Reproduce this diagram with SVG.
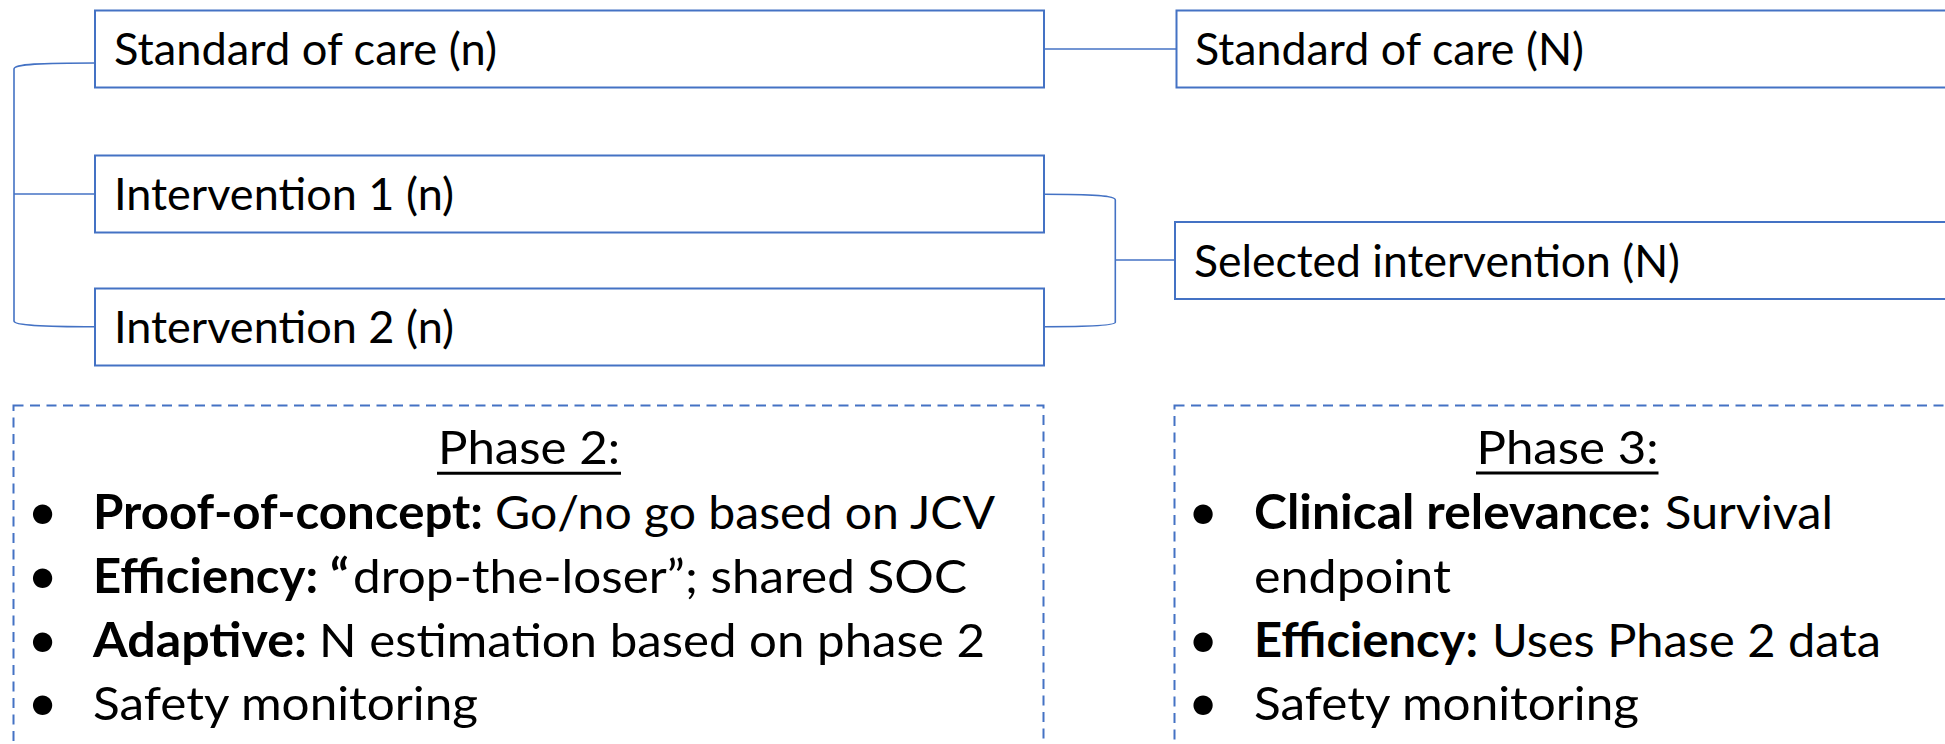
<svg xmlns="http://www.w3.org/2000/svg" width="1945" height="744" viewBox="0 0 1945 744">
<style>
  .box { fill: #ffffff; stroke: #4472C4; stroke-width: 2; }
  .dash { fill: none; stroke: #4472C4; stroke-width: 2; stroke-dasharray: 10 6.5; }
  .conn { fill: none; stroke: #4472C4; stroke-width: 1.6; }
  .t { font-family: Lato, "Liberation Sans", sans-serif; fill: #000000; }
  .bx { font-size: 43.5px; }
  .bl { font-size: 47px; }
  .bu { font-size: 52px; }
  .b { font-weight: bold; }
  .ul { stroke: #000000; stroke-width: 3; }
</style>
<rect width="1945" height="744" fill="#ffffff"/>

<g id="connectors">
  <path class="conn" d="M95,63 C40,63 14,64 14,69 L14,321 C14,325 40,326.7 95,326.7"/>
  <path class="conn" d="M14,194 L95,194"/>
  <path class="conn" d="M1044,49 L1176.5,49"/>
  <path class="conn" d="M1044,194.3 C1095,194.3 1115.3,196 1115.3,200 L1115.3,322.3 C1115.3,325 1095,326.7 1044,326.7"/>
  <path class="conn" d="M1115.3,260 L1175,260"/>
</g>

<g id="soc-n">
  <rect class="box" x="95" y="10.5" width="949" height="77"/>
  <text class="t bx" x="114" y="65" textLength="383" lengthAdjust="spacingAndGlyphs">Standard of care (n)</text>
</g>
<g id="int1-n">
  <rect class="box" x="95" y="155.5" width="949" height="77"/>
  <text class="t bx" x="114" y="210" textLength="340" lengthAdjust="spacingAndGlyphs">Intervention 1 (n)</text>
</g>
<g id="int2-n">
  <rect class="box" x="95" y="288.5" width="949" height="77"/>
  <text class="t bx" x="114" y="343" textLength="340" lengthAdjust="spacingAndGlyphs">Intervention 2 (n)</text>
</g>
<g id="soc-N">
  <rect class="box" x="1176.5" y="10.5" width="800" height="77"/>
  <text class="t bx" x="1195" y="65" textLength="389" lengthAdjust="spacingAndGlyphs">Standard of care (N)</text>
</g>
<g id="selected-N">
  <rect class="box" x="1175" y="222" width="800" height="77"/>
  <text class="t bx" x="1194" y="276.5" textLength="486" lengthAdjust="spacingAndGlyphs">Selected intervention (N)</text>
</g>

<g id="phase2">
  <rect class="dash" x="13.5" y="405.5" width="1030" height="400"/>
  <text class="t bl" x="529" y="463.5" text-anchor="middle" textLength="182" lengthAdjust="spacingAndGlyphs">Phase 2:</text>
  <line class="ul" x1="437" y1="473.3" x2="621" y2="473.3"/>
  <text class="t bu" x="42.5" y="530" text-anchor="middle">•</text>
  <text class="t bl b" x="93" y="529" textLength="390" lengthAdjust="spacingAndGlyphs">Proof-of-concept:</text>
  <text class="t bl" x="495" y="529" textLength="500" lengthAdjust="spacingAndGlyphs">Go/no go based on JCV</text>
  <text class="t bu" x="42.5" y="594" text-anchor="middle">•</text>
  <text class="t bl b" x="93" y="593" textLength="256" lengthAdjust="spacingAndGlyphs">Efficiency: “</text>
  <text class="t bl" x="353" y="593" textLength="614" lengthAdjust="spacingAndGlyphs">drop-the-loser”; shared SOC</text>
  <text class="t bu" x="42.5" y="657.5" text-anchor="middle">•</text>
  <text class="t bl b" x="93" y="656.5" textLength="214" lengthAdjust="spacingAndGlyphs">Adaptive:</text>
  <text class="t bl" x="319" y="656.5" textLength="666" lengthAdjust="spacingAndGlyphs">N estimation based on phase 2</text>
  <text class="t bu" x="42.5" y="721" text-anchor="middle">•</text>
  <text class="t bl" x="93" y="720" textLength="385" lengthAdjust="spacingAndGlyphs">Safety monitoring</text>
</g>

<g id="phase3">
  <rect class="dash" x="1174.5" y="405.5" width="790" height="400"/>
  <text class="t bl" x="1567.5" y="463.5" text-anchor="middle" textLength="182" lengthAdjust="spacingAndGlyphs">Phase 3:</text>
  <line class="ul" x1="1476" y1="473" x2="1658.5" y2="473"/>
  <text class="t bu" x="1203" y="530" text-anchor="middle">•</text>
  <text class="t bl b" x="1254" y="529" textLength="397" lengthAdjust="spacingAndGlyphs">Clinical relevance:</text>
  <text class="t bl" x="1665" y="529" textLength="168" lengthAdjust="spacingAndGlyphs">Survival</text>
  <text class="t bl" x="1254" y="593" textLength="197" lengthAdjust="spacingAndGlyphs">endpoint</text>
  <text class="t bu" x="1203" y="657.5" text-anchor="middle">•</text>
  <text class="t bl b" x="1254" y="656.5" textLength="224" lengthAdjust="spacingAndGlyphs">Efficiency:</text>
  <text class="t bl" x="1492" y="656.5" textLength="389" lengthAdjust="spacingAndGlyphs">Uses Phase 2 data</text>
  <text class="t bu" x="1203" y="721" text-anchor="middle">•</text>
  <text class="t bl" x="1254" y="720" textLength="385" lengthAdjust="spacingAndGlyphs">Safety monitoring</text>
</g>
</svg>
